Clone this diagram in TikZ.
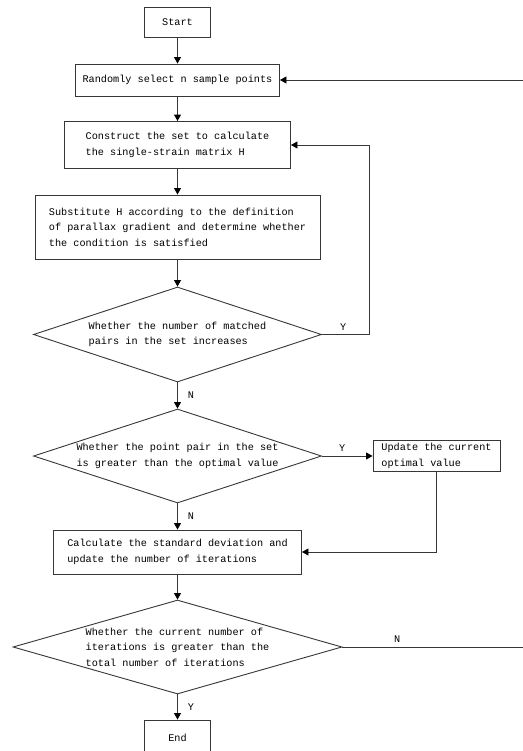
\documentclass[tikz,border=0pt]{standalone}
\usepackage{fontspec}
\setmonofont{Liberation Mono}
\usetikzlibrary{shapes.geometric,arrows.meta}
\definecolor{lc}{RGB}{55,55,55}
\begin{document}
\begin{tikzpicture}[x=1bp,y=-1bp,
  every node/.style={font=\ttfamily\fontsize{10.2bp}{15.5bp}\selectfont},
  box/.style={draw=lc, line width=0.9bp, rectangle, inner sep=0pt, align=left},
  dia/.style={draw=lc, line width=0.9bp, diamond, inner sep=0pt},
  dtext/.style={align=left, inner sep=0pt},
  lab/.style={inner sep=0pt},
  conn/.style={draw=lc, line width=0.9bp, -{Triangle[length=6.5bp,width=7bp,color=black]}}
]
\useasboundingbox (0,0) rectangle (523,751);
\fill[white] (0,0) rectangle (523,751);

\node[box, minimum width=66bp, minimum height=30bp] (start) at (177.5,22) {Start};
\node[box, minimum width=204bp, minimum height=32bp] (rand) at (177.5,80) {Randomly select n sample points};
\node[box, minimum width=226bp, minimum height=47bp] (cons) at (177.5,145) {Construct the set to calculate\\the single-strain matrix H};
\node[box, minimum width=285bp, minimum height=64bp] (sub) at (177.5,227) {Substitute H according to the definition\\of parallax gradient and determine whether\\the condition is satisfied};
\node[dia, minimum width=288bp, minimum height=95bp,
  label={[dtext]center:Whether the number of matched\\pairs in the set increases}] (d1) at (177.5,334.5) {};
\node[dia, minimum width=288bp, minimum height=94bp,
  label={[dtext]center:Whether the point pair in the set\\is greater than the optimal value}] (d2) at (177.5,456) {};
\node[box, minimum width=127bp, minimum height=31bp, inner xsep=4bp] (upd) at (436.5,456) {Update the current\\optimal value\hphantom{xxxxx}};
\node[box, minimum width=248bp, minimum height=44bp] (calc) at (177.5,552) {Calculate the standard deviation and\\update the number of iterations};
\node[dia, minimum width=329bp, minimum height=94bp,
  label={[dtext]center:Whether the current number of\\iterations is greater than the\\total number of iterations}] (d3) at (177.5,647) {};
\node[box, minimum width=66bp, minimum height=36bp] (end) at (177.5,738) {End};

\coordinate (yturn) at (369,334.5);
\coordinate (nturn) at (525,647);

\draw[conn] (start.south) -- (rand.north);
\draw[conn] (rand.south) -- (cons.north);
\draw[conn] (cons.south) -- (sub.north);
\draw[conn] (sub.south) -- (d1.north);
\draw[conn] (d1.south) -- node[lab, right, xshift=10bp, pos=0.5] (n1) {N} (d2.north);
\draw[conn] (d2.south) -- node[lab, right, xshift=10bp, pos=0.5] (n2) {N} (calc.north);
\draw[conn] (calc.south) -- (d3.north);
\draw[conn] (d3.south) -- node[lab, right, xshift=10bp, pos=0.5] (y3) {Y} (end.north);

\draw[conn] (d1.east) -- node[lab, above, pos=0.45, yshift=4bp] (y1) {Y} (yturn) |- (cons.east);
\draw[conn] (d2.east) -- node[lab, above, pos=0.4, yshift=4bp] (y2) {Y} (upd.west);
\draw[conn] (upd.south) |- (calc.east);
\draw[conn] (d3.east) -- node[lab, above, pos=0.3, yshift=4bp] (n3) {N} (nturn) |- (rand.east);
\end{tikzpicture}
\end{document}
